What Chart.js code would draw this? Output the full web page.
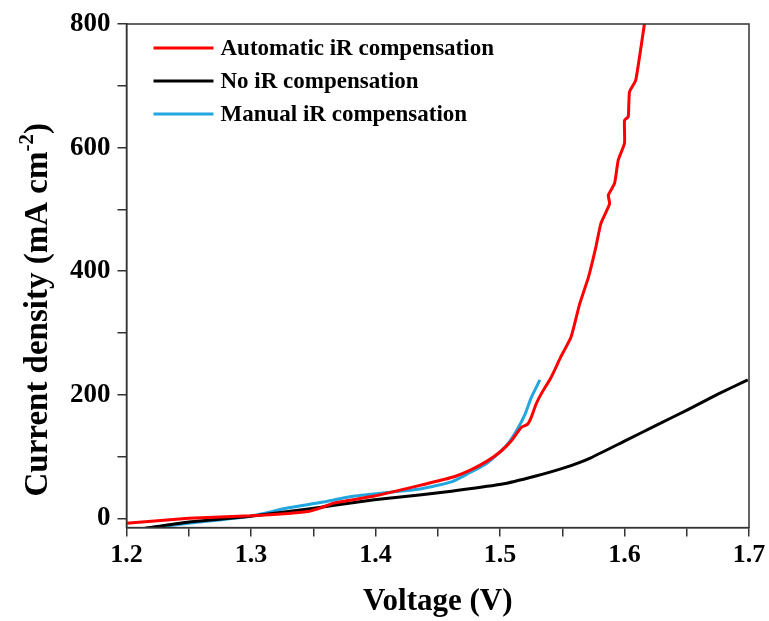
<!DOCTYPE html>
<html>
<head>
<meta charset="utf-8">
<script src="https://cdn.jsdelivr.net/npm/chart.js@4.4.1/dist/chart.umd.min.js"></script>
<style>
  html, body { margin: 0; padding: 0; background: #fff; }
  #wrap { width: 769px; height: 621px; }
</style>
</head>
<body>
<div id="wrap"><canvas id="myChart"></canvas></div>
<script>
// values
const autoV = [1.2, 1.25, 1.3, 1.33, 1.346, 1.356, 1.367, 1.399, 1.437, 1.461, 1.477, 1.49, 1.501, 1.509, 1.517, 1.522, 1.525, 1.529, 1.533, 1.541, 1.549, 1.557, 1.564, 1.571, 1.577, 1.581, 1.588, 1.587, 1.592, 1.595, 1.6, 1.6, 1.603, 1.604, 1.609, 1.616];
const autoJ = [-8, 0, 4, 8, 11, 17, 25, 36, 54, 66, 79, 93, 109, 125, 147, 152, 163, 185, 201, 228, 262, 293, 347, 390, 439, 477, 509, 523, 542, 580, 607, 644, 650, 690, 709, 800];

const noV = [1.215, 1.25, 1.298, 1.346, 1.367, 1.399, 1.437, 1.461, 1.501, 1.528, 1.552, 1.573, 1.6, 1.627, 1.651, 1.675, 1.699];
const noJ = [-16, -6, 3, 15, 21, 30, 38, 44, 55, 68, 82, 98, 125, 152, 176, 201, 224];

const manV = [1.22, 1.25, 1.298, 1.33, 1.357, 1.383, 1.437, 1.461, 1.474, 1.488, 1.498, 1.506, 1.513, 1.52, 1.525, 1.532];
const manJ = [-15, -8, 3, 17, 26, 36, 48, 59, 72, 87, 104, 120, 141, 168, 195, 224];

const xTicks = [1.2, 1.25, 1.3, 1.35, 1.4, 1.45, 1.5, 1.55, 1.6, 1.65, 1.7];
const yTicks = [0, 100, 200, 300, 400, 500, 600, 700, 800];

const labels = ["Automatic iR compensation", "No iR compensation", "Manual iR compensation"];
const colors = ["#ff0000", "#000000", "#22a6df"];

const toPts = (xs, ys) => xs.map((x, i) => ({ x: x, y: ys[i] }));

const fontFam = "'Liberation Serif', 'Times New Roman', serif";

// frame, legend inside the plot (top-left) and y title with a real superscript
const extras = {
  id: "extras",
  afterDraw(chart) {
    const ctx = chart.ctx;
    const a = chart.chartArea;
    ctx.save();
    ctx.strokeStyle = "#333";
    ctx.lineWidth = 1.5;
    ctx.strokeRect(a.left, a.top, a.right - a.left, a.bottom - a.top);

    ctx.font = "bold 23px " + fontFam;
    ctx.textBaseline = "middle";
    chart.data.datasets.forEach((ds, i) => {
      const y = a.top + 24 + i * 33;
      ctx.strokeStyle = ds.borderColor;
      ctx.lineWidth = 3;
      ctx.beginPath();
      ctx.moveTo(a.left + 27, y);
      ctx.lineTo(a.left + 87, y);
      ctx.stroke();
      ctx.fillStyle = "#000";
      ctx.fillText(ds.label, a.left + 94, y + 1);
    });

    // y axis title
    const main = "Current density (mA cm";
    const sup = "-2";
    const end = ")";
    const big = "bold 33px " + fontFam;
    const small = "bold 21px " + fontFam;
    ctx.font = big;
    const w1 = ctx.measureText(main).width;
    const w3 = ctx.measureText(end).width;
    ctx.font = small;
    const w2 = ctx.measureText(sup).width;
    const total = w1 + w2 + w3;
    ctx.translate(35, (a.top + a.bottom) / 2 + 34);
    ctx.rotate(-Math.PI / 2);
    ctx.fillStyle = "#000";
    ctx.textBaseline = "alphabetic";
    let x = -total / 2;
    ctx.font = big;
    ctx.fillText(main, x, 12);
    x += w1;
    ctx.font = small;
    ctx.fillText(sup, x, -2);
    x += w2;
    ctx.font = big;
    ctx.fillText(end, x, 12);
    ctx.restore();
  }
};

let ctx1 = document.getElementById("myChart").getContext("2d");

let lsvChart = new Chart(ctx1, {
  type: "line",
  data: {
    datasets: [
      { label: labels[0], data: toPts(autoV, autoJ), borderColor: colors[0] },
      { label: labels[1], data: toPts(noV, noJ), borderColor: colors[1] },
      { label: labels[2], data: toPts(manV, manJ), borderColor: colors[2] },
    ],
  },
  options: {
    responsive: true,
    maintainAspectRatio: false,
    animation: false,
    layout: { padding: { left: 63, right: 20, top: 24, bottom: 0 } },
    elements: {
      point: { radius: 0 },
      line: { borderWidth: 3, tension: 0.15, fill: false },
    },
    plugins: {
      legend: { display: false },
      tooltip: { enabled: false },
    },
    scales: {
      x: {
        type: "linear",
        min: 1.2,
        max: 1.7,
        afterBuildTicks: (axis) => { axis.ticks = xTicks.map((v) => ({ value: v })); },
        ticks: {
          color: "#000",
          padding: 3,
          maxRotation: 0,
          font: { family: fontFam, size: 26, weight: "bold" },
          callback: (v) => (Math.round(v * 100) % 10 === 0 ? v.toFixed(1) : ""),
        },
        grid: { drawOnChartArea: false, tickLength: 9, color: "#333", lineWidth: 1.5 },
        border: { color: "#333", width: 1.5 },
        title: {
          display: true,
          text: "Voltage (V)",
          color: "#000",
          font: { family: fontFam, size: 31, weight: "bold" },
          padding: { top: 10, bottom: 0 },
        },
      },
      y: {
        type: "linear",
        min: -15,
        max: 800,
        afterBuildTicks: (axis) => { axis.ticks = yTicks.map((v) => ({ value: v })); },
        ticks: {
          color: "#000",
          padding: 7,
          font: { family: fontFam, size: 27, weight: "bold" },
          callback: (v) => (v % 200 === 0 ? v : ""),
        },
        grid: { drawOnChartArea: false, tickLength: 9, color: "#333", lineWidth: 1.5 },
        border: { color: "#333", width: 1.5 },
      },
    },
  },
  plugins: [extras],
});
</script>
</body>
</html>
